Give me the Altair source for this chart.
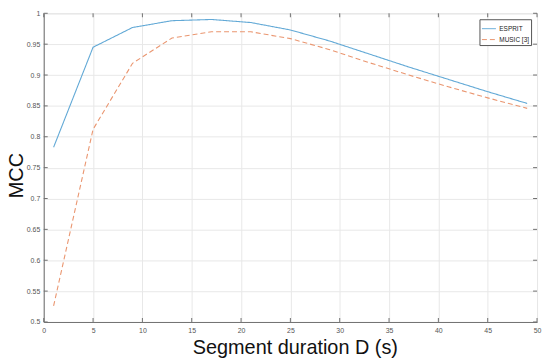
import altair as alt
import pandas as pd

durations = [1, 5, 9, 13, 17, 21, 25, 29, 33, 37, 41, 45, 49]
esprit = [0.783, 0.945, 0.977, 0.988, 0.990, 0.985, 0.973, 0.955, 0.934, 0.913, 0.893, 0.873, 0.854]
music = [0.526, 0.812, 0.919, 0.960, 0.970, 0.970, 0.959, 0.941, 0.920, 0.900, 0.881, 0.863, 0.846]
x_ticks = [0, 5, 10, 15, 20, 25, 30, 35, 40, 45, 50]
y_ticks = [0.5, 0.55, 0.6, 0.65, 0.7, 0.75, 0.8, 0.85, 0.9, 0.95, 1.0]
series_names = ["ESPRIT", "MUSIC [3]"]

W, H = 497, 311
FONT = "Liberation Sans"

rows = []
for d, e, m in zip(durations, esprit, music):
    rows.append({"D": d, "MCC": e, "series": series_names[0]})
    rows.append({"D": d, "MCC": m, "series": series_names[1]})
df = pd.DataFrame(rows)

xs = alt.Scale(domain=[0, 50], nice=False)
ys = alt.Scale(domain=[0.5, 1.0], nice=False, zero=False)

x_axis = alt.Axis(values=x_ticks, title="Segment duration D (s)", grid=True,
                  gridColor="#e8e8e8", domainColor="#707070", ticks=False,
                  labelFontSize=7, labelColor="#555555", labelPadding=5,
                  labelOverlap=False, labelFlush=False,
                  labelFont=FONT, titleFont=FONT, titleFontSize=20,
                  titleFontWeight="normal", titleColor="#111111",
                  titleX=253, titleY=32, titleBaseline="alphabetic",
                  titleAlign="center")
y_axis = alt.Axis(values=y_ticks, title="MCC", grid=True, format="~g",
                  gridColor="#e8e8e8", domainColor="#707070", ticks=False,
                  labelFontSize=7, labelColor="#555555", labelPadding=4,
                  labelOverlap=False, labelFlush=False,
                  labelFont=FONT, titleFont=FONT, titleFontSize=20,
                  titleFontWeight="normal", titleColor="#111111",
                  titleX=-21, titleY=163, titleBaseline="alphabetic",
                  titleAlign="center", titleAngle=270)

leg = dict(title=None, orient="none", legendX=439, legendY=6,
           symbolType="stroke", symbolSize=196, symbolStrokeWidth=1,
           labelFontSize=6.5, labelFont=FONT, labelColor="#222222",
           strokeColor="#555555", fillColor="white", padding=2,
           rowPadding=-6, labelOffset=3, symbolOffset=0)

lines = alt.Chart(df).mark_line(strokeWidth=1.1).encode(
    x=alt.X("D:Q", scale=xs, axis=x_axis),
    y=alt.Y("MCC:Q", scale=ys, axis=y_axis),
    color=alt.Color("series:N",
                    scale=alt.Scale(domain=series_names, range=["#62a9d6", "#ea9670"]),
                    legend=alt.Legend(**leg)),
    strokeDash=alt.StrokeDash("series:N",
                              scale=alt.Scale(domain=series_names, range=[[1, 0], [5, 3]]),
                              legend=alt.Legend(**leg)),
)

xt = pd.DataFrame({"t": x_ticks})
yt = pd.DataFrame({"t": y_ticks})
tick_color = "#707070"
xb = alt.Chart(xt).mark_rule(color=tick_color, strokeWidth=1).encode(
    x=alt.X("t:Q", scale=xs, axis=x_axis), y=alt.value(H), y2=alt.value(H - 4))
xtp = alt.Chart(xt).mark_rule(color=tick_color, strokeWidth=1).encode(
    x=alt.X("t:Q", scale=xs, axis=x_axis), y=alt.value(0), y2=alt.value(4))
yl = alt.Chart(yt).mark_rule(color=tick_color, strokeWidth=1).encode(
    y=alt.Y("t:Q", scale=ys, axis=y_axis), x=alt.value(0), x2=alt.value(4))
yr = alt.Chart(yt).mark_rule(color=tick_color, strokeWidth=1).encode(
    y=alt.Y("t:Q", scale=ys, axis=y_axis), x=alt.value(W), x2=alt.value(W - 4))

chart = alt.layer(lines, xb, xtp, yl, yr).properties(
    width=W, height=H,
    autosize=alt.AutoSizeParams(type="none"),
    padding={"left": 36, "top": 4, "right": 5, "bottom": 40},
).configure_view(stroke="#707070", strokeWidth=1).configure(background="white")

chart.save("out.html", embed_options={"renderer": "svg", "actions": False})
